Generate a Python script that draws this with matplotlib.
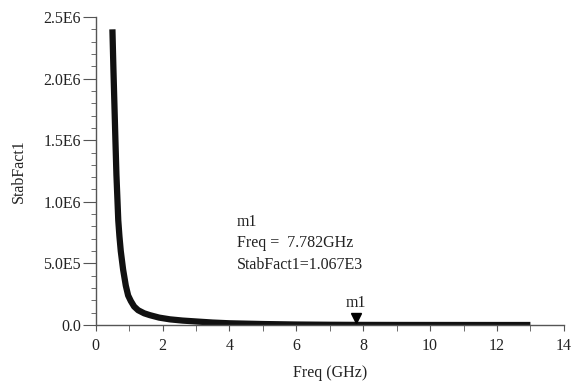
import matplotlib.pyplot as plt
from matplotlib.transforms import ScaledTranslation
from matplotlib.ticker import MultipleLocator

# curve
freq = [0.50, 0.53, 0.56, 0.59, 0.62, 0.65, 0.675, 0.71, 0.75, 0.82, 0.90, 0.97,
        1.05, 1.15, 1.27, 1.45, 1.62, 1.9, 2.22, 2.6, 3.1, 3.5, 4.0, 5.0,
        6.0, 7.0, 7.782, 9.0, 10.0, 11.0, 12.0, 13.0]
stab = [2.40e6, 2.08e6, 1.79e6, 1.50e6, 1.22e6, 1.02e6, 8.5e5, 7.2e5, 6.0e5, 4.5e5, 3.2e5, 2.4e5,
        1.95e5, 1.5e5, 1.2e5, 9.5e4, 8.0e4, 6.0e4, 4.6e4, 3.6e4, 2.7e4, 2.0e4, 1.4e4, 8.0e3,
        4.0e3, 2.0e3, 1.067e3, 6.0e2, 4.0e2, 2.5e2, 1.5e2, 1.0e2]

marker_freq = 7.782
marker_val = 1.067e3

yticks = [0, 5e5, 1e6, 1.5e6, 2e6, 2.5e6]
ytick_labels = ['0.0', '5.0E5', '1.0E6', '1.5E6', '2.0E6', '2.5E6']
xticks = [0, 2, 4, 6, 8, 10, 12, 14]

plt.rcParams['font.family'] = ['Liberation Serif', 'DejaVu Serif']
txt_color = '#222222'

fig = plt.figure(figsize=(5.73, 3.83), dpi=100)
ax = fig.add_axes([0.167, 0.1514, 0.817, 0.8042])

ax.plot(freq, stab, color='#111111', linewidth=4.5, solid_capstyle='butt')

# marker triangle sitting on the trace
off = ScaledTranslation(0, 5 / 72, fig.dpi_scale_trans)
ax.plot([marker_freq], [marker_val], marker='v', markersize=7, color='black',
        transform=ax.transData + off, clip_on=False)
ax.annotate('m1', (marker_freq, marker_val), xytext=(0, 10), textcoords='offset points',
            ha='center', va='bottom', fontsize=11.5, color=txt_color)

ax.text(237 / 573, 1 - 214 / 383, 'm1\nFreq =  7.782GHz\nStabFact1=1.067E3',
        transform=fig.transFigure, fontsize=11.5, color=txt_color,
        va='top', ha='left', linespacing=1.45)

ax.set_xlim(0, 14)
ax.set_ylim(0, 2.5e6)
ax.set_xticks(xticks)
ax.xaxis.set_minor_locator(MultipleLocator(1))
ax.set_yticks(yticks)
ax.set_yticklabels(ytick_labels)
ax.yaxis.set_minor_locator(MultipleLocator(1e5))

for s in ['top', 'right']:
    ax.spines[s].set_visible(False)
for s in ['left', 'bottom']:
    ax.spines[s].set_color('#555555')
    ax.spines[s].set_linewidth(1.0)

ax.tick_params(axis='x', which='both', direction='out', length=4.5, color='#555555',
               labelsize=11.5, labelcolor=txt_color, pad=5)
ax.tick_params(axis='y', which='major', direction='out', length=9.5, color='#555555',
               labelsize=11.5, labelcolor=txt_color, pad=1)
ax.tick_params(axis='y', which='minor', direction='out', length=3.6, color='#555555')

ax.set_xlabel('Freq (GHz)', fontsize=11.5, color=txt_color, labelpad=8)
ax.set_ylabel('StabFact1', fontsize=11.5, color=txt_color, labelpad=12)

fig.savefig('out.png', dpi=100)
